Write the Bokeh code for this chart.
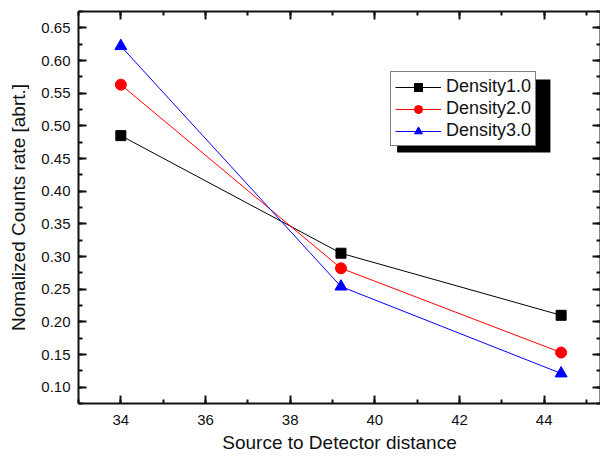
from bokeh.plotting import figure
from bokeh.models import (LinearAxis, SingleIntervalTicker, NumeralTickFormatter,
                          Legend, LegendItem, BoxAnnotation, Range1d)
from bokeh.embed import file_html
from bokeh.resources import INLINE

# data
distance = [34.0, 39.2, 44.4]
density1 = [0.485, 0.305, 0.210]
density2 = [0.563, 0.282, 0.153]
density3 = [0.622, 0.254, 0.121]
series_names = ["Density1.0", "Density2.0", "Density3.0"]
x_label = "Source to Detector distance"
y_label = "Nomalized Counts rate [abrt.]"

FONT = "Liberation Sans"
W, H = 600, 457
ML, MT, MR, MB = 78, 11, 0, 54
FL, FR, FT, FB = 78, 599, 11, 403   # approximate frame edges in px
x0, x1 = 33.0, 45.33
y0, y1 = 0.075, 0.675

p = figure(width=W, height=H, output_backend="svg", toolbar_location=None,
           x_range=Range1d(x0, x1), y_range=Range1d(y0, y1),
           min_border_left=ML, min_border_top=MT, min_border_right=MR,
           min_border_bottom=MB, background_fill_color="white",
           border_fill_color="white")
p.outline_line_color = None
p.xgrid.visible = False
p.ygrid.visible = False

xt = SingleIntervalTicker(interval=2, num_minor_ticks=2)
yt = SingleIntervalTicker(interval=0.05, num_minor_ticks=2)


def style_axis(ax, labels=True):
    ax.axis_line_width = 2
    ax.axis_line_color = "#111111"
    ax.major_tick_in = 8
    ax.major_tick_out = 0
    ax.minor_tick_in = 4
    ax.minor_tick_out = 0
    ax.major_tick_line_width = 2
    ax.minor_tick_line_width = 2
    ax.major_tick_line_color = "#111111"
    ax.minor_tick_line_color = "#111111"
    ax.major_label_text_font = FONT
    ax.major_label_text_color = "#111111"
    ax.axis_label_text_font = FONT
    ax.axis_label_text_font_style = "normal"
    ax.axis_label_text_color = "#111111"
    if not labels:
        ax.major_label_text_font_size = "0px"
        ax.major_label_standoff = 0
        ax.major_label_text_alpha = 0


p.xaxis.ticker = xt
p.yaxis.ticker = yt
p.yaxis.formatter = NumeralTickFormatter(format="0.00")
style_axis(p.xaxis[0])
style_axis(p.yaxis[0])
p.xaxis.major_label_text_font_size = "15px"
p.yaxis.major_label_text_font_size = "15px"
p.xaxis.axis_label = x_label
p.yaxis.axis_label = y_label
p.xaxis.axis_label_text_font_size = "19px"
p.yaxis.axis_label_text_font_size = "19px"
p.xaxis.major_label_standoff = 11
p.xaxis.axis_label_standoff = 4
p.yaxis.major_label_standoff = 8
p.yaxis.axis_label_standoff = 9

top_ax = LinearAxis(ticker=xt)
style_axis(top_ax, labels=False)
p.add_layout(top_ax, "above")
right_ax = LinearAxis(ticker=yt)
style_axis(right_ax, labels=False)
p.add_layout(right_ax, "right")

# lines and markers
r1l = p.line(distance, density1, line_color="black", line_width=1)
r1m = p.scatter(distance, density1, marker="square", size=10, color="black")
r2l = p.line(distance, density2, line_color="red", line_width=1)
r2m = p.scatter(distance, density2, marker="circle", size=11, color="red")
r3l = p.line(distance, density3, line_color="blue", line_width=1)
r3m = p.scatter(distance, density3, marker="triangle", size=12, color="blue")

# legend shadow (box placed in pixel offsets converted to data units)
def sx(px):
    return x0 + (px - FL) / (FR - FL) * (x1 - x0)
def sy(py):
    return y1 - (py - FT) / (FB - FT) * (y1 - y0)

shadow = BoxAnnotation(left=sx(396), right=sx(549), top=sy(79), bottom=sy(152),
                       fill_color="black", fill_alpha=1, line_color=None, level="overlay")
p.add_layout(shadow)

legend = Legend(items=[LegendItem(label=series_names[0], renderers=[r1l, r1m]),
                       LegendItem(label=series_names[1], renderers=[r2l, r2m]),
                       LegendItem(label=series_names[2], renderers=[r3l, r3m])],
                location=(390 - FL, FB - 146),
                border_line_color="black", border_line_width=1,
                background_fill_color="white", background_fill_alpha=1,
                label_text_font=FONT, label_text_font_size="18px",
                label_text_color="#111111",
                glyph_width=46, glyph_height=20, label_height=20,
                spacing=1, padding=4, margin=0, label_standoff=5)
p.add_layout(legend)

open("out.html", "w").write(file_html(p, INLINE))
